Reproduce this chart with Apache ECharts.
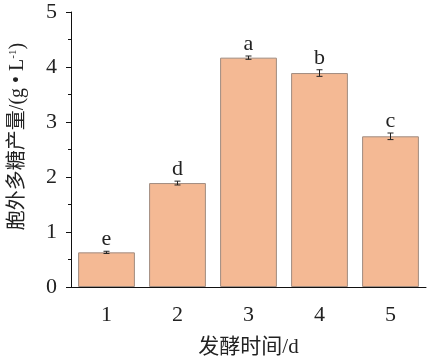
<!DOCTYPE html>
<html><head><meta charset="utf-8">
<script src="https://cdn.jsdelivr.net/npm/echarts@6/dist/echarts.min.js"></script>
<style>html,body{margin:0;padding:0;background:#fff}#c{width:428px;height:360px}</style>
</head><body><div id="c"></div>
<script>
var categories = ['1', '2', '3', '4', '5'];
var values = [0.63, 1.89, 4.17, 3.89, 2.74];
var errors = [0.02, 0.035, 0.03, 0.06, 0.06];
var letters = ['e', 'd', 'a', 'b', 'c'];
var yTicks = [0, 1, 2, 3, 4, 5];

var FONT = "'Liberation Serif', 'Noto Sans CJK SC', serif";
var chart = echarts.init(document.getElementById('c'));
var errData = values.map(function (v, i) { return [i, v, errors[i], letters[i]]; });
chart.setOption({
  animation: false,
  grid: { left: 71, right: 2, top: 12, bottom: 73, outerBoundsMode: 'none', containLabel: false },
  xAxis: {
    type: 'category', data: categories,
    name: '发酵时间/d', nameLocation: 'middle', nameGap: 50,
    nameTextStyle: { fontFamily: FONT, fontSize: 21, color: '#222' },
    axisLine: { lineStyle: { color: '#111', width: 1 } },
    axisTick: { alignWithLabel: true, length: 5, lineStyle: { color: '#111' } },
    axisLabel: { fontFamily: FONT, fontSize: 22, color: '#222', margin: 17 }
  },
  yAxis: {
    type: 'value', min: yTicks[0], max: yTicks[yTicks.length - 1], interval: 1,
    name: '胞外多糖产量/(g • L{sup|-1})', nameLocation: 'middle', nameGap: 43, nameRotate: 90,
    nameTextStyle: { fontFamily: FONT, fontSize: 20, color: '#222', padding: [0, 0, 0, 26],
      rich: { sup: { fontFamily: FONT, fontSize: 11, verticalAlign: 'top', color: '#222' } } },
    axisLine: { show: true, lineStyle: { color: '#111', width: 1 } },
    axisTick: { show: true, length: 5, lineStyle: { color: '#111' } },
    minorTick: { show: true, splitNumber: 2, length: 3, lineStyle: { color: '#111' } },
    splitLine: { show: false },
    axisLabel: { fontFamily: FONT, fontSize: 22, color: '#222', margin: 14 }
  },
  series: [{
    type: 'bar', data: values, barCategoryGap: '20%',
    itemStyle: { color: '#F4B994', borderColor: '#a08c80', borderWidth: 1 }
  }, {
    type: 'custom', data: errData, z: 10,
    renderItem: function (params, api) {
      var i = api.value(0), v = api.value(1), e = api.value(2);
      var top = api.coord([i, v + e]), bot = api.coord([i, v - e]);
      var x = top[0], w = 3;
      var st = { stroke: '#222', lineWidth: 1 };
      return { type: 'group', children: [
        { type: 'line', shape: { x1: x, y1: top[1], x2: x, y2: bot[1] }, style: st },
        { type: 'line', shape: { x1: x - w, y1: top[1], x2: x + w, y2: top[1] }, style: st },
        { type: 'line', shape: { x1: x - w, y1: bot[1], x2: x + w, y2: bot[1] }, style: st },
        { type: 'text', x: x, y: top[1] - 1, style: { text: letters[params.dataIndex], align: 'center', verticalAlign: 'bottom', fontFamily: FONT, fontSize: 22, fill: '#222' } }
      ] };
    }
  }]
});
</script></body></html>
